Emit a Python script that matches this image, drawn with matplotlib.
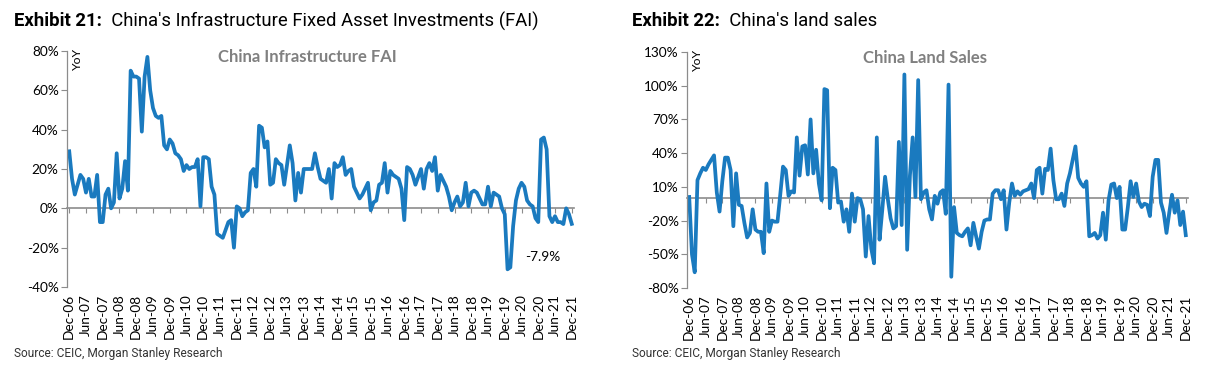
import numpy as np
import pandas as pd
import matplotlib
matplotlib.use('Agg')
import matplotlib.pyplot as plt

# monthly YoY readings, Dec-06 .. Dec-21
dates = pd.date_range('2006-12-01', periods=181, freq='MS')

infra_fai = [29, 15, 7, 12, 17, 15, 8, 15, 6, 6,
             17, -7, -7, 7, 10, 0, 3, 28, 5, 10,
             24, 9, 70, 67, 67, 66, 39, 67, 77, 60,
             51, 47, 46, 47, 32, 30, 35, 33, 28, 27,
             25, 19, 22, 20, 21, 21, 25, 1, 26, 26,
             25, 11, 7, -13, -14, -15, -11, -7, -6, -20,
             1, 0, -4, -2, -1, 18, 20, 11, 42, 41,
             31, 34, 12, 13, 25, 23, 22, 12, 22, 32,
             23, 4, 18, 8, 20, 20, 20, 20, 28, 21,
             15, 14, 13, 20, 5, 23, 21, 22, 26, 17,
             19, 20, 11, 8, 5, 7, 10, 13, -1, 3,
             4, 12, 13, 23, 8, 19, 17, 16, 15, 10,
             -6, 21, 20, 17, 12, 16, 20, 10, 20, 23,
             19, 26, 9, 17, 14, 11, 6, -1, 3, 6,
             1, 3, 13, 1, 8, 9, 8, 5, 2, 2,
             11, 1, 8, 7, 6, 0, -3, -31, -30, -9,
             4, 10, 13, 11, 4, 2, 1, -5, -7, 35,
             36, 30, -4, -7, -4, -7, -7, -8, 0, -3,
             -7.9]

land_sales = [1, -50, -66, 16, 22, 27, 25, 30, 34, 38,
              5, -12, 15, 36, 36, 25, -25, 22, -6, -7,
              -22, -35, -31, -10, -28, -30, -30, -49, 13, -30,
              -20, -21, -21, 3, 28, 25, 2, 6, 5, 54,
              20, 46, 47, 21, 70, 22, 43, 13, -2, 97,
              96, -9, 27, 25, -4, -3, -21, -10, -30, 4,
              -21, 0, -1, -10, -52, -16, -45, -58, 54, -37,
              -10, 19, -1, -18, -27, -25, 50, -24, 110, -46,
              20, 54, 1, 105, -1, 5, 7, -10, -19, 2,
              -5, 5, 7, -14, 101, -70, -8, -31, -33, -34,
              -30, -27, -42, -22, -34, -45, -30, -20, -19, -19,
              4, 7, 7, -1, 7, -28, -4, 13, 2, 6,
              3, 6, 7, 8, 13, 0, 25, 27, 4, 26,
              25, 44, 16, -1, -1, 4, -7, 13, 22, 34,
              46, 18, 13, 10, 15, -34, -33, -31, -36, -33,
              -13, -37, -2, 12, 13, 0, 10, -28, -28, -8,
              15, 1, 13, -3, -8, -5, -6, -16, 19, 34,
              34, -4, -13, -31, -13, 3, -13, -2, -24, -12,
              -33]

tick_pos = np.arange(0, 181, 6)
tick_labels = dates[::6].strftime('%b-%y')

blue = '#1a7abf'
grey = '#8c8c8c'
W, H = 1208, 374

plt.rcParams['font.family'] = ['Lato', 'DejaVu Sans']

fig = plt.figure(figsize=(W / 100, H / 100), dpi=100)


def add_ax(l, t, r, b):
    return fig.add_axes([l / W, 1 - b / H, (r - l) / W, (b - t) / H])


def panel(ax, y, ylim, ystep, name):
    x = np.arange(len(y))
    ax.plot(x, y, color=blue, lw=2.7, solid_joinstyle='round')
    ax.set_xlim(-0.8, 180.8)
    ax.set_ylim(*ylim)
    yt = np.arange(ylim[0], ylim[1] + 1, ystep)
    ax.set_yticks(yt)
    ax.set_yticklabels([f'{v}%' for v in yt])
    for s in ['top', 'right', 'bottom']:
        ax.spines[s].set_visible(False)
    ax.spines['left'].set_color(grey)
    ax.spines['left'].set_linewidth(0.9)
    ax.tick_params(axis='y', length=4, color=grey, labelsize=9.8, pad=2)
    ax.set_xticks(tick_pos)
    ax.set_xticklabels(tick_labels, rotation=90, fontsize=9.8)
    ax.tick_params(axis='x', length=0, pad=5)
    # category axis crossing at zero
    zero = (0 - ylim[0]) / (ylim[1] - ylim[0])
    sec = ax.secondary_xaxis(zero)
    sec.set_xticks(tick_pos)
    sec.tick_params(length=3.5, color=grey, labelbottom=False, labeltop=False)
    sec.spines['bottom'].set_color(grey)
    sec.spines['bottom'].set_linewidth(1.2)
    ax.text(0.02, 0.965, 'YoY', transform=ax.transAxes, rotation=90,
            ha='center', va='center', fontsize=8.8)
    ax.text(0.475, 0.975, name, transform=ax.transAxes, ha='center', va='center',
            fontsize=12, fontweight='bold', color='#808080')


ax1 = add_ax(67, 51, 574, 287)
panel(ax1, infra_fai, (-40, 80), 20, 'China Infrastructure FAI')
ax1.text(169.5, -24.5, '-7.9%', ha='center', va='center', fontsize=9.8)

ax2 = add_ax(687, 52, 1188, 288)
panel(ax2, land_sales, (-80, 130), 30, 'China Land Sales')


def title(ax, x, num, text):
    t = fig.text(x / W, 1 - 21 / H, num, fontsize=13.3, fontweight='bold',
                 family='Roboto', va='center', ha='left')
    ax.annotate('  ' + text, xy=(1, 0.5), xycoords=t, va='center', ha='left',
                fontsize=13.3, family='Roboto', annotation_clip=False)


title(ax1, 14, 'Exhibit 21:', "China's Infrastructure Fixed Asset Investments (FAI)")
title(ax2, 632, 'Exhibit 22:', "China's land sales")

for x in (14, 632):
    fig.text(x / W, 1 - 354 / H, 'Source: CEIC, Morgan Stanley Research',
             fontsize=8.6, family='Roboto', color='#333333', va='center')

fig.savefig('out.png', dpi=100)
